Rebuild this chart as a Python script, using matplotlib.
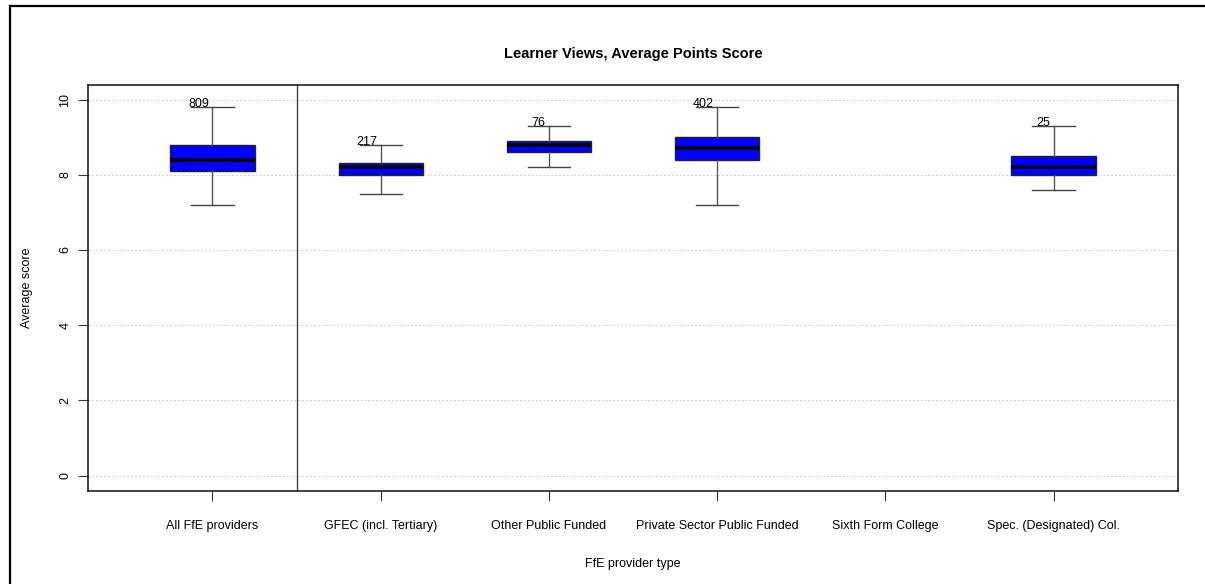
import matplotlib
matplotlib.use("Agg")
import matplotlib.pyplot as plt
from matplotlib.lines import Line2D

plt.rcParams['font.family'] = ['Liberation Sans', 'DejaVu Sans']

categories = ["All FfE providers", "GFEC (incl. Tertiary)", "Other Public Funded",
              "Private Sector Public Funded", "Sixth Form College", "Spec. (Designated) Col."]
# None = no data for that group
whisker_low = [7.2, 7.5, 8.2, 7.2, None, 7.6]
q1 =          [8.1, 8.0, 8.6, 8.4, None, 8.0]
median =      [8.4, 8.2, 8.8, 8.7, None, 8.2]
q3 =          [8.8, 8.3, 8.9, 9.0, None, 8.5]
whisker_hi =  [9.8, 8.8, 9.3, 9.8, None, 9.3]
counts =      [809, 217, 76, 402, None, 25]
yticks = [0, 2, 4, 6, 8, 10]

fig = plt.figure(figsize=(12.05, 5.84), dpi=100)
ax = fig.add_axes([88/1205, 1-490.7/584, (1178-88)/1205, (490.7-84.5)/584])

stats, positions = [], []
for i in range(len(categories)):
    if median[i] is None:
        continue
    stats.append(dict(whislo=whisker_low[i], q1=q1[i], med=median[i],
                      q3=q3[i], whishi=whisker_hi[i], fliers=[]))
    positions.append(i + 1)

ax.bxp(stats, positions=positions, widths=0.5, patch_artist=True,
       showfliers=False, manage_ticks=False,
       boxprops=dict(facecolor='#0000FF', edgecolor='#222222', linewidth=1.0),
       medianprops=dict(color='black', linewidth=2.6, solid_capstyle='butt'),
       whiskerprops=dict(color='#555555', linewidth=1.0),
       capprops=dict(color='#444444', linewidth=1.0),
       capwidths=0.25, zorder=3)

for i, c in enumerate(counts):
    if c is None:
        continue
    ax.annotate(str(c), xy=(i + 1, whisker_hi[i]), xytext=(-2.2, 2.2),
                textcoords='offset points', ha='right', va='center',
                fontsize=9, color='black', zorder=5)

ax.set_xlim(0.26, 6.74)
ax.set_ylim(-0.4, 10.4)
ax.set_xticks(range(1, len(categories) + 1))
ax.set_xticklabels(categories, fontsize=9)
ax.set_yticks(yticks)
ax.set_yticklabels([str(t) for t in yticks], fontsize=9, rotation=90, va='center')
ax.tick_params(axis='both', length=7, width=0.8, color='#333333')
ax.tick_params(axis='x', pad=14)
ax.tick_params(axis='y', pad=5)

for t in yticks:
    ax.axhline(t, color='#cccccc', linestyle=(0, (1.5, 2)), linewidth=0.8, zorder=1)
ax.axvline(1.5, color='#444444', linewidth=1.0, zorder=2)

for s in ax.spines.values():
    s.set_linewidth(1.1)
    s.set_color('#111111')

ax.set_title("Learner Views, Average Points Score", fontsize=10.5,
             fontweight='bold', pad=19)
ax.set_xlabel("FfE provider type", fontsize=9, labelpad=19)
ax.set_ylabel("Average score", fontsize=9, labelpad=19)

# outer frame (top and left edges visible)
fig.add_artist(Line2D([10/1205, 1.0], [1-6/584, 1-6/584], transform=fig.transFigure,
                      color='black', linewidth=1.6))
fig.add_artist(Line2D([10/1205, 10/1205], [0.0, 1-6/584], transform=fig.transFigure,
                      color='black', linewidth=1.6))

fig.savefig("out.png", dpi=100)
